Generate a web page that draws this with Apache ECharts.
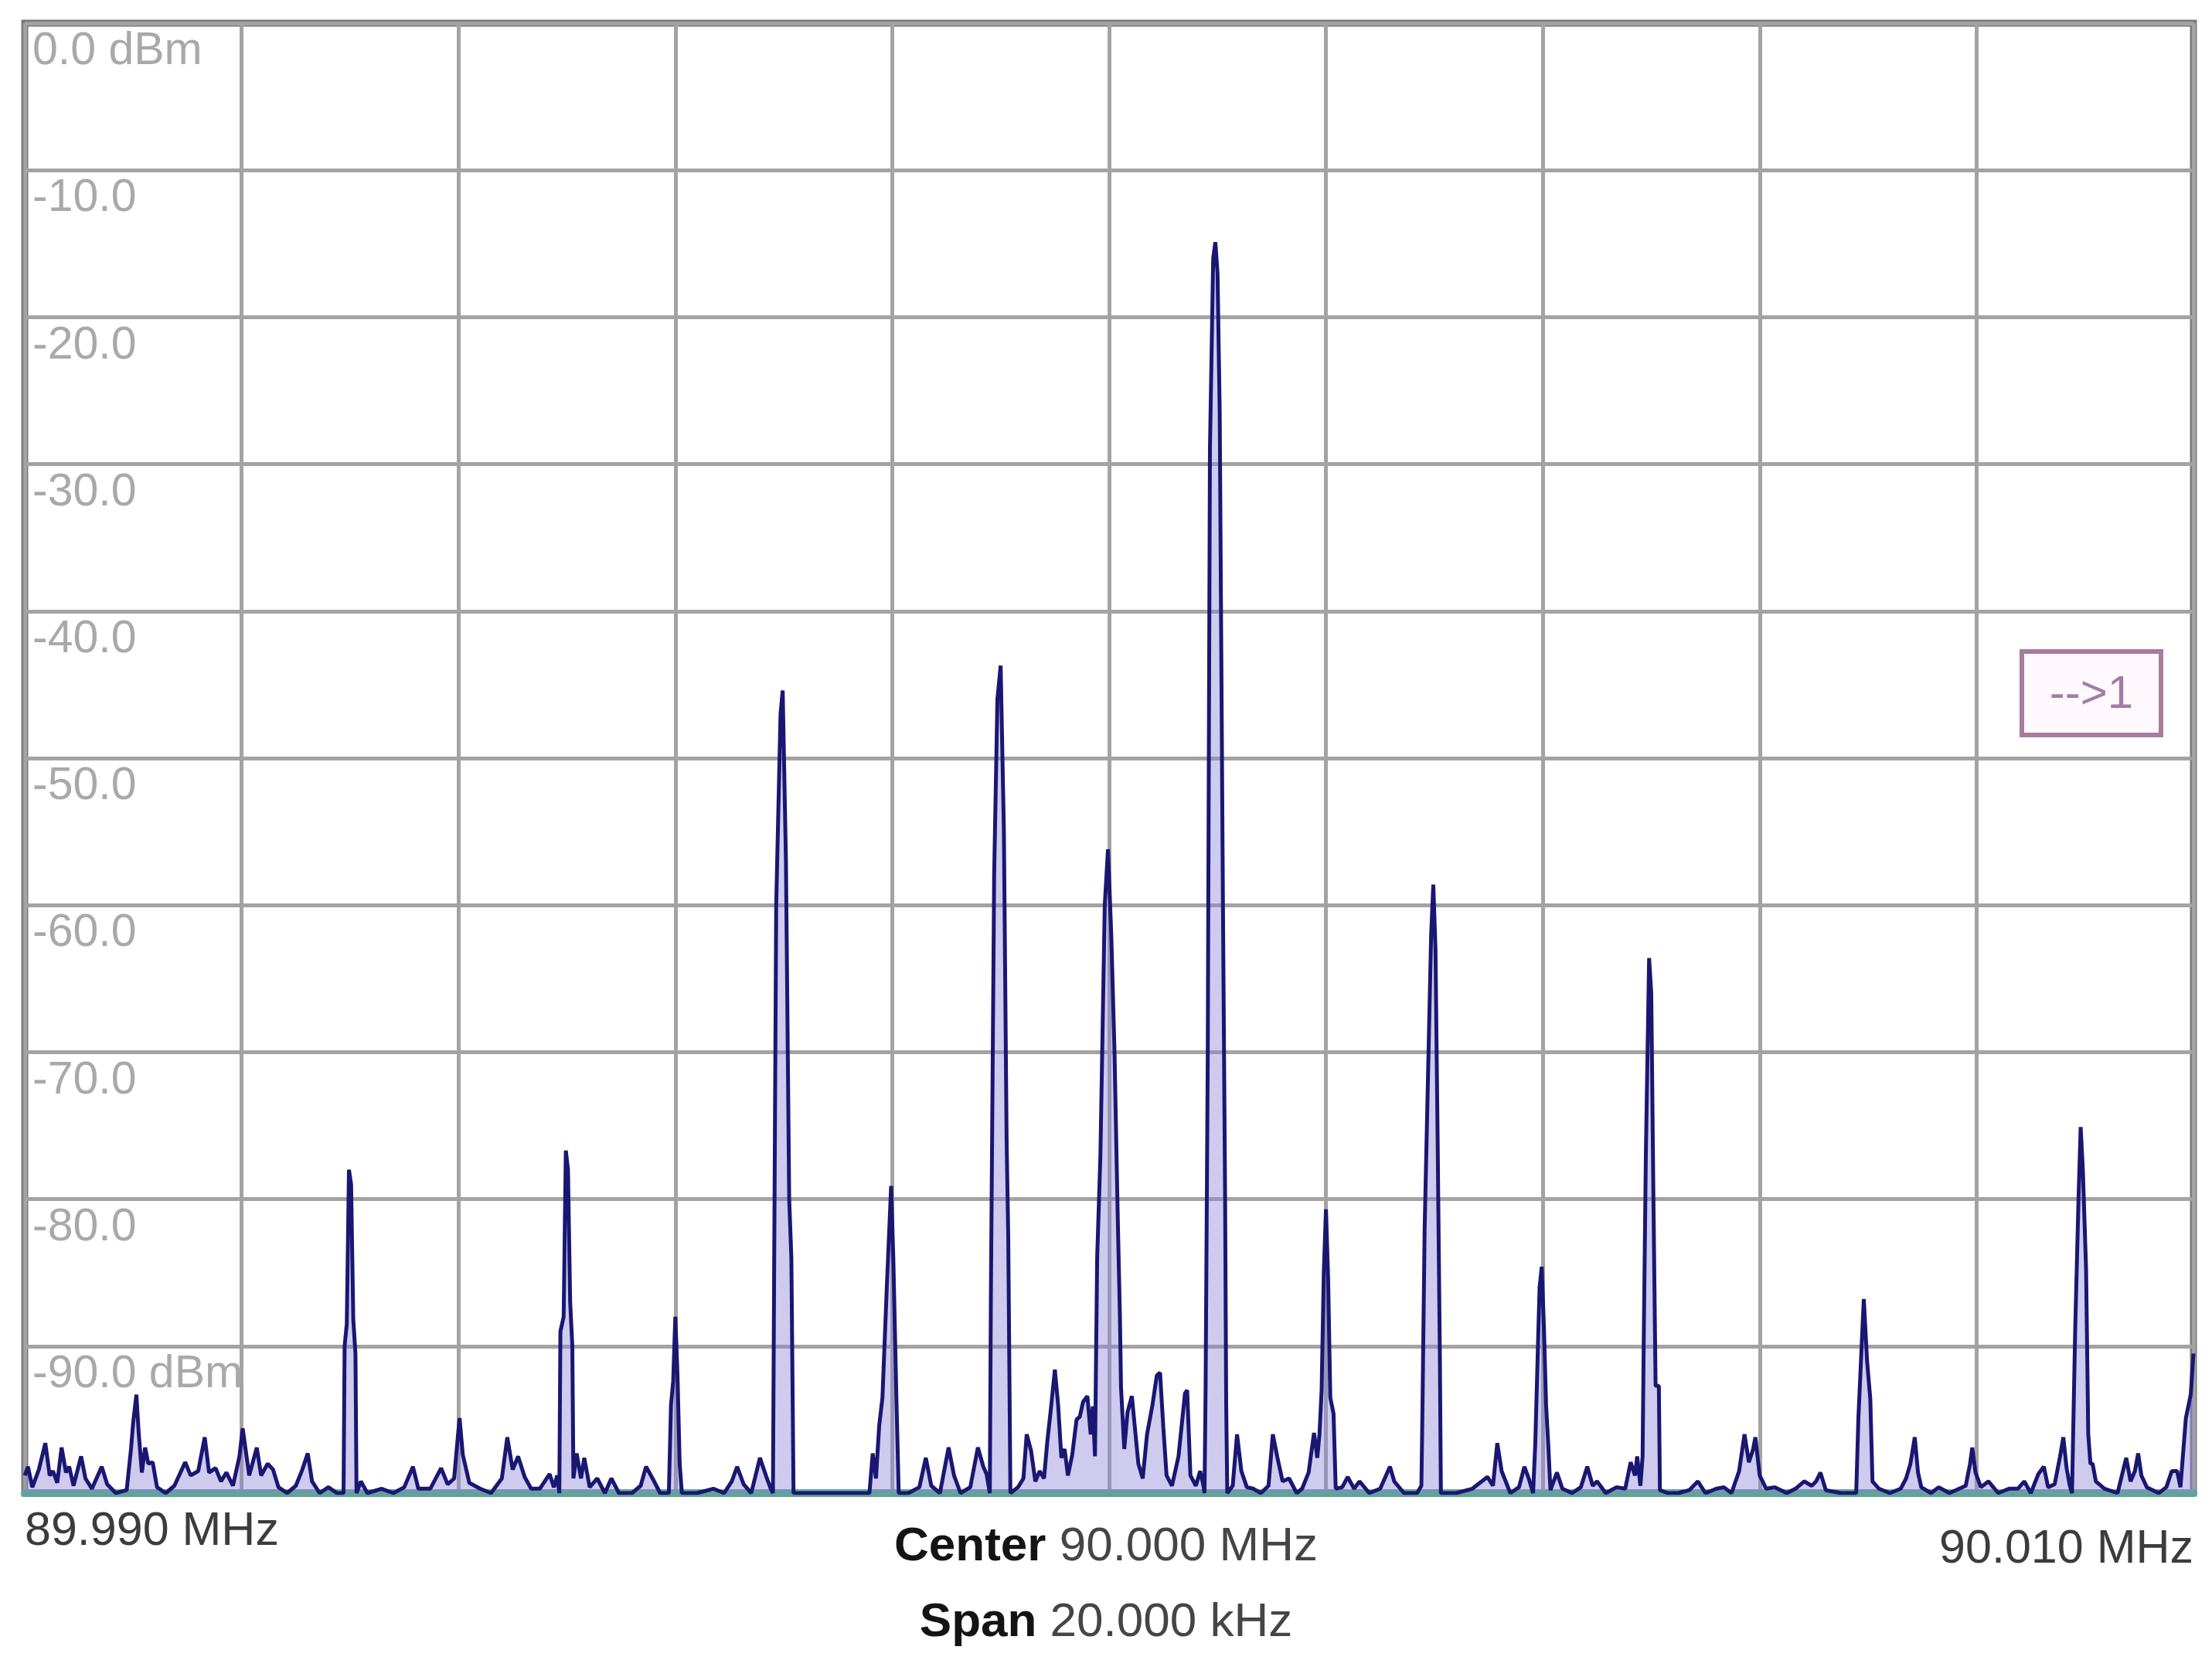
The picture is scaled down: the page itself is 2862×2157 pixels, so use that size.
<!DOCTYPE html>
<html>
<head>
<meta charset="utf-8">
<script src="https://cdn.jsdelivr.net/npm/echarts/dist/echarts.min.js"></script>
<style>
  html, body { margin: 0; padding: 0; background: #ffffff; }
  #chart { width: 2862px; height: 2157px; }
</style>
</head>
<body>
<div id="chart"></div>
<script>
// ---- Data (frequency offset from 90.000 MHz in kHz, level in dBm) ----
var spectrumTrace = [
  [-10.00, -98.8], [-9.97, -98.2], [-9.93, -99.6], [-9.87, -98.4], [-9.81, -96.6],
  [-9.77, -98.8], [-9.74, -98.5], [-9.70, -99.3], [-9.66, -96.9], [-9.62, -98.6],
  [-9.59, -98.2], [-9.55, -99.5], [-9.48, -97.5], [-9.44, -99.0], [-9.38, -99.7],
  [-9.29, -98.2], [-9.24, -99.4], [-9.16, -100], [-9.06, -99.8], [-9.02, -97.0],
  [-9.00, -95.2], [-8.97, -93.3], [-8.95, -95.8], [-8.92, -98.6], [-8.89, -96.9],
  [-8.86, -98.0], [-8.82, -97.9], [-8.78, -99.6], [-8.70, -100], [-8.62, -99.5],
  [-8.52, -97.9], [-8.47, -98.8], [-8.40, -98.5], [-8.34, -96.2], [-8.30, -98.6],
  [-8.24, -98.3], [-8.19, -99.2], [-8.14, -98.6], [-8.08, -99.5], [-8.02, -97.5],
  [-7.99, -95.6], [-7.96, -97.2], [-7.93, -98.8], [-7.86, -96.9], [-7.82, -98.8],
  [-7.76, -98.0], [-7.71, -98.4], [-7.66, -99.6], [-7.58, -100], [-7.50, -99.5],
  [-7.44, -98.4], [-7.39, -97.3], [-7.35, -99.2], [-7.28, -100], [-7.20, -99.6],
  [-7.12, -100], [-7.06, -100], [-7.05, -90.0], [-7.03, -88.5], [-7.01, -78.0],
  [-6.99, -79.0], [-6.97, -88.2], [-6.95, -90.5], [-6.94, -100], [-6.90, -99.2],
  [-6.84, -100], [-6.71, -99.7], [-6.60, -100], [-6.50, -99.6], [-6.42, -98.2],
  [-6.37, -99.7], [-6.26, -99.7], [-6.16, -98.3], [-6.10, -99.4], [-6.04, -99.0],
  [-6.01, -96.5], [-5.99, -94.9], [-5.96, -97.4], [-5.90, -99.3], [-5.80, -99.7],
  [-5.70, -100], [-5.60, -99.0], [-5.55, -96.2], [-5.50, -98.4], [-5.45, -97.5],
  [-5.39, -98.9], [-5.33, -99.7], [-5.25, -99.7], [-5.16, -98.7], [-5.12, -99.6],
  [-5.09, -98.8], [-5.07, -100], [-5.06, -89.0], [-5.03, -88.0], [-5.01, -76.7],
  [-4.99, -78.0], [-4.97, -87.0], [-4.95, -90.0], [-4.94, -99.0], [-4.91, -97.3],
  [-4.87, -99.0], [-4.84, -97.6], [-4.79, -99.6], [-4.72, -99.0], [-4.65, -100],
  [-4.59, -99.0], [-4.52, -100], [-4.40, -100], [-4.32, -99.5], [-4.27, -98.2],
  [-4.21, -99.0], [-4.14, -100], [-4.06, -100], [-4.04, -94.0], [-4.02, -92.4],
  [-4.00, -88.0], [-3.98, -92.0], [-3.96, -98.0], [-3.94, -100], [-3.80, -100],
  [-3.65, -99.7], [-3.55, -100], [-3.48, -99.2], [-3.43, -98.2], [-3.37, -99.4],
  [-3.30, -100], [-3.22, -97.6], [-3.16, -98.9], [-3.12, -99.7], [-3.10, -100],
  [-3.09, -86.4], [-3.07, -60.0], [-3.03, -47.0], [-3.01, -45.4], [-2.98, -57.0],
  [-2.95, -80.0], [-2.93, -84.0], [-2.91, -100], [-2.70, -100], [-2.50, -100],
  [-2.30, -100], [-2.21, -100], [-2.18, -97.3], [-2.15, -99.0], [-2.12, -95.4],
  [-2.09, -93.5], [-2.05, -86.0], [-2.01, -79.1], [-1.99, -84.0], [-1.96, -94.0],
  [-1.94, -100], [-1.85, -100], [-1.75, -99.6], [-1.69, -97.6], [-1.64, -99.5],
  [-1.56, -100], [-1.48, -96.9], [-1.43, -98.8], [-1.37, -100], [-1.28, -99.6],
  [-1.21, -96.9], [-1.16, -98.2], [-1.13, -98.7], [-1.10, -100], [-1.09, -86.5],
  [-1.06, -58.0], [-1.03, -46.0], [-1.00, -43.7], [-0.97, -55.0], [-0.945, -76.0],
  [-0.93, -82.5], [-0.91, -100], [-0.84, -99.6], [-0.79, -99.0], [-0.76, -96.0],
  [-0.72, -97.1], [-0.68, -99.2], [-0.64, -98.5], [-0.60, -99.0], [-0.57, -96.5],
  [-0.54, -94.5], [-0.50, -91.6], [-0.47, -94.0], [-0.44, -97.6], [-0.41, -97.0],
  [-0.38, -98.8], [-0.34, -97.4], [-0.30, -95.0], [-0.27, -94.8], [-0.24, -93.8],
  [-0.20, -93.4], [-0.17, -96.0], [-0.15, -94.1], [-0.13, -97.5], [-0.11, -84.0],
  [-0.08, -77.0], [-0.04, -60.0], [-0.01, -56.2], [0.02, -62.0], [0.05, -70.0],
  [0.08, -81.3], [0.10, -88.0], [0.11, -92.8], [0.14, -97.0], [0.17, -94.5],
  [0.21, -93.4], [0.24, -95.7], [0.27, -98.0], [0.31, -99.0], [0.35, -96.0],
  [0.40, -94.0], [0.44, -92.0], [0.47, -91.8], [0.50, -95.5], [0.53, -98.8],
  [0.58, -99.5], [0.64, -97.5], [0.70, -93.2], [0.72, -93.0], [0.75, -98.8],
  [0.80, -99.5], [0.84, -98.5], [0.87, -99.5], [0.88, -100], [0.89, -93.0],
  [0.91, -70.0], [0.93, -29.0], [0.96, -16.0], [0.98, -14.9], [1.00, -17.0],
  [1.02, -26.3], [1.05, -60.0], [1.07, -80.0], [1.08, -94.0], [1.09, -100],
  [1.14, -99.5], [1.18, -96.0], [1.22, -98.5], [1.27, -99.6], [1.33, -99.7],
  [1.40, -100], [1.47, -99.5], [1.51, -96.0], [1.55, -97.5], [1.60, -99.2],
  [1.66, -99.0], [1.73, -100], [1.78, -99.7], [1.84, -98.6], [1.89, -95.9],
  [1.92, -97.6], [1.94, -96.0], [1.96, -93.0], [1.98, -85.0], [2.00, -80.7],
  [2.02, -85.4], [2.04, -93.5], [2.07, -94.6], [2.09, -99.7], [2.15, -99.6],
  [2.20, -98.9], [2.26, -99.7], [2.31, -99.2], [2.40, -100], [2.50, -99.7],
  [2.59, -98.2], [2.63, -99.2], [2.72, -100], [2.84, -100], [2.88, -99.5],
  [2.89, -94.3], [2.91, -82.0], [2.94, -72.0], [2.97, -62.0], [2.99, -58.6],
  [3.01, -63.0], [3.03, -76.0], [3.05, -90.3], [3.06, -100], [3.20, -100],
  [3.35, -99.7], [3.49, -98.9], [3.54, -99.5], [3.58, -96.6], [3.62, -98.5],
  [3.70, -100], [3.78, -99.6], [3.83, -98.2], [3.87, -99.0], [3.91, -100],
  [3.93, -96.7], [3.95, -91.3], [3.97, -86.0], [3.99, -84.6], [4.01, -88.7],
  [4.03, -94.0], [4.05, -96.7], [4.07, -99.8], [4.13, -98.6], [4.18, -99.7],
  [4.27, -100], [4.35, -99.6], [4.41, -98.2], [4.46, -99.5], [4.50, -99.2],
  [4.58, -100], [4.68, -99.6], [4.76, -99.7], [4.81, -97.9], [4.85, -98.8],
  [4.87, -97.5], [4.90, -99.5], [4.92, -97.5], [4.93, -90.0], [4.95, -77.0],
  [4.98, -63.6], [5.00, -66.0], [5.02, -80.0], [5.04, -92.7], [5.07, -92.7],
  [5.08, -99.8], [5.15, -100], [5.25, -100], [5.35, -99.8], [5.43, -99.2],
  [5.50, -100], [5.60, -99.7], [5.67, -99.6], [5.74, -100], [5.81, -98.5],
  [5.86, -96.0], [5.90, -97.9], [5.94, -97.0], [5.96, -96.2], [6.00, -98.8],
  [6.06, -99.7], [6.14, -99.6], [6.25, -100], [6.33, -99.7], [6.41, -99.2],
  [6.48, -99.5], [6.52, -99.2], [6.56, -98.6], [6.61, -99.8], [6.75, -100],
  [6.89, -100], [6.91, -94.9], [6.94, -90.0], [6.96, -86.8], [6.99, -91.0],
  [7.02, -93.6], [7.04, -99.2], [7.10, -99.7], [7.20, -100], [7.30, -99.7],
  [7.35, -99.0], [7.39, -98.0], [7.43, -96.2], [7.46, -98.6], [7.49, -99.6],
  [7.58, -100], [7.65, -99.6], [7.75, -100], [7.84, -99.7], [7.90, -99.5],
  [7.94, -98.0], [7.96, -96.9], [7.99, -98.6], [8.04, -99.6], [8.11, -99.2],
  [8.20, -100], [8.30, -99.7], [8.38, -99.7], [8.44, -99.2], [8.50, -100],
  [8.57, -98.7], [8.62, -98.2], [8.66, -99.6], [8.72, -99.4], [8.77, -97.5],
  [8.80, -96.2], [8.83, -98.3], [8.86, -99.5], [8.88, -100], [8.89, -96.2],
  [8.91, -88.7], [8.94, -80.0], [8.96, -75.1], [8.98, -78.0], [9.01, -84.8],
  [9.03, -96.0], [9.05, -98.0], [9.07, -98.0], [9.10, -99.2], [9.18, -99.7],
  [9.30, -100], [9.38, -97.6], [9.42, -99.2], [9.46, -98.5], [9.49, -97.3],
  [9.52, -98.8], [9.57, -99.6], [9.68, -100], [9.75, -99.6], [9.80, -98.5],
  [9.85, -98.5], [9.88, -99.6], [9.93, -94.9], [9.975, -93.3], [10.00, -90.5]
];

// y tick labels, from 0 dBm down to -100 dBm
var levelTickLabels = ['0.0 dBm', '-10.0', '-20.0', '-30.0', '-40.0', '-50.0',
                       '-60.0', '-70.0', '-80.0', '-90.0 dBm', ''];
// x edge labels
var startFreqLabel = '89.990 MHz';
var stopFreqLabel = '90.010 MHz';
var centerLabel = ['Center', ' 90.000 MHz'];
var spanLabel = ['Span', ' 20.000 kHz'];
var markerLabel = '-->1';

var FONT = "'Liberation Sans', Arial, 'DejaVu Sans', sans-serif";

var chart = echarts.init(document.getElementById('chart'), null, { renderer: 'canvas' });

function bottomRich() {
  return {
    b: { fontFamily: FONT, fontSize: 62, fontWeight: 'bold', color: '#141414', lineHeight: 62 },
    n: { fontFamily: FONT, fontSize: 62, fontWeight: 'normal', color: '#454545', lineHeight: 62 }
  };
}

var option = {
  backgroundColor: '#ffffff',
  animation: false,
  textStyle: { fontFamily: FONT },
  title: [
    {
      text: '{b|' + centerLabel[0] + '}{n|' + centerLabel[1] + '}',
      left: 'center',
      top: 1971,
      padding: 0,
      textStyle: { fontWeight: 'normal', rich: bottomRich() }
    },
    {
      text: '{b|' + spanLabel[0] + '}{n|' + spanLabel[1] + '}',
      left: 'center',
      top: 2069,
      padding: 0,
      textStyle: { fontWeight: 'normal', rich: bottomRich() }
    }
  ],
  grid: {
    left: 32,
    right: 24,
    top: 30,
    bottom: 225,
    show: true,
    backgroundColor: '#ffffff',
    borderColor: '#7a7a7a',
    borderWidth: 9
  },
  xAxis: {
    type: 'value',
    min: -10,
    max: 10,
    interval: 2,
    axisLine: { show: true, onZero: false, lineStyle: { color: '#5fa593', width: 10 } },
    axisTick: { show: false },
    splitLine: { show: true, lineStyle: { color: '#a3a3a3', width: 5 } },
    axisLabel: {
      show: true,
      margin: 20,
      verticalAlign: 'top',
      showMinLabel: true,
      showMaxLabel: true,
      alignMinLabel: 'left',
      alignMaxLabel: 'right',
      formatter: function (v) {
        if (v === -10) return '{lo|' + startFreqLabel + '}';
        if (v === 10) return '{hi|' + stopFreqLabel + '}';
        return '';
      },
      rich: {
        lo: { fontFamily: FONT, fontSize: 61, color: '#3c3c3c', lineHeight: 60 },
        hi: { fontFamily: FONT, fontSize: 61, color: '#3c3c3c', lineHeight: 106 }
      }
    }
  },
  yAxis: {
    type: 'value',
    min: -100,
    max: 0,
    interval: 10,
    axisLine: { show: false },
    axisTick: { show: false },
    splitLine: { show: true, lineStyle: { color: '#a3a3a3', width: 5 } },
    axisLabel: {
      show: true,
      inside: true,
      margin: 10,
      align: 'left',
      verticalAlign: 'top',
      padding: [8, 0, 0, 0],
      lineHeight: 58,
      fontFamily: FONT,
      fontSize: 59,
      color: '#a9a9a9',
      showMinLabel: true,
      showMaxLabel: true,
      formatter: function (v) {
        var idx = Math.round(-v / 10);
        return levelTickLabels[idx] || '';
      }
    }
  },
  series: [
    {
      type: 'line',
      data: spectrumTrace,
      symbol: 'none',
      smooth: false,
      clip: true,
      z: 3,
      lineStyle: { color: '#1a1772', width: 5 },
      areaStyle: { color: 'rgba(140,130,218,0.6)', origin: 'start' }
    }
  ],
  graphic: [
    {
      type: 'group',
      left: 2613,
      top: 840,
      children: [
        {
          type: 'rect',
          shape: { x: 0, y: 0, width: 180, height: 108 },
          style: { fill: 'rgba(255,245,252,0.6)', stroke: '#a77c9f', lineWidth: 6 }
        },
        {
          type: 'text',
          x: 90,
          y: 56,
          style: {
            text: markerLabel,
            fontFamily: FONT,
            fontSize: 60,
            fill: '#a27ca6',
            align: 'center',
            verticalAlign: 'middle'
          }
        }
      ]
    }
  ]
};

chart.setOption(option);
</script>
</body>
</html>
